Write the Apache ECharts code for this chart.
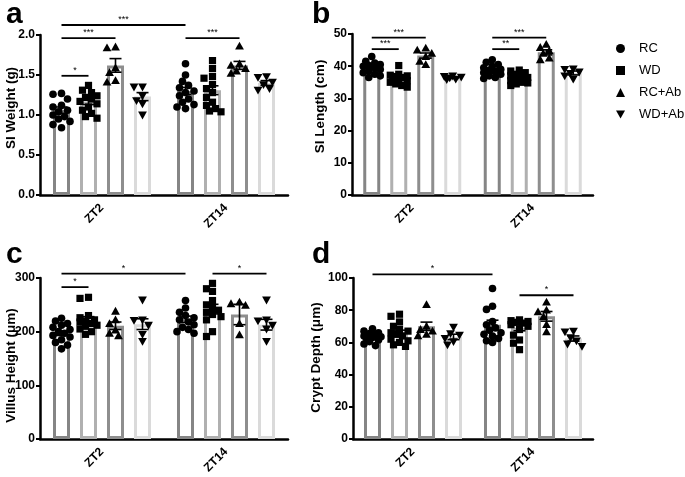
<!DOCTYPE html>
<html><head><meta charset="utf-8">
<script src="https://cdn.jsdelivr.net/npm/echarts@6/dist/echarts.min.js"></script>
<style>html,body{margin:0;padding:0;background:#fff}#c{width:685px;height:477px}</style>
</head><body><div id="c"></div>
<script>
const categories = ['ZT2', 'ZT14'];
const groups = ['RC', 'WD', 'RC+Ab', 'WD+Ab'];

// Panel a: SI Weight (g) — [ZT2 points], [ZT14 points]
const weightRC   = [[1.27,1.26,1.20,1.12,1.10,1.06,1.04,1.00,0.98,0.95,0.92,0.88,0.84],[1.64,1.50,1.42,1.37,1.34,1.30,1.28,1.24,1.20,1.16,1.13,1.10,1.08]];
const weightWD   = [[1.37,1.31,1.28,1.24,1.22,1.20,1.17,1.14,1.10,1.06,1.02,0.98,0.96],[1.68,1.58,1.48,1.46,1.38,1.33,1.28,1.22,1.16,1.12,1.08,1.05,1.04]];
const weightRCAb = [[1.85,1.84,1.59,1.53,1.43,1.41],[1.86,1.64,1.62,1.58,1.55,1.52]];
const weightWDAb = [[1.35,1.35,1.24,1.18,1.14,1.00],[1.48,1.47,1.41,1.38,1.33,1.31]];
const weightMean = [[1.06,1.30],[1.17,1.31],[1.62,1.62],[1.23,1.40]];
const weightSem  = [[0.04,0.045],[0.04,0.055],[0.085,0.05],[0.05,0.03]];
const weightSig  = [[0,0,0,1,1.49,'*'],[0,0,0,2,1.96,'***'],[0,0,1,0,2.125,'***'],[1,0,1,2,1.96,'***']];

// Panel b: SI Length (cm)
const lengthRC   = [[43.0,41.5,41.0,40.5,40.2,40.0,39.5,39.0,38.5,38.0,37.5,37.0,36.5],[42.0,41.2,40.5,40.0,39.5,39.0,38.7,38.3,38.0,37.5,37.0,36.5,36.2]];
const lengthWD   = [[40.2,37.5,37.2,37.0,36.8,36.5,36.2,36.0,35.5,35.0,34.5,34.0,33.5],[38.8,38.5,38.0,37.5,37.0,36.8,36.5,36.0,35.5,35.0,34.8,34.5,34.0]];
const lengthRCAb = [[45.6,45.0,44.0,43.0,41.5,40.5],[46.8,45.8,44.8,44.0,42.5,42.0]];
const lengthWDAb = [[37.0,36.8,36.6,36.4,36.0,35.8],[39.2,39.0,38.2,37.8,37.0,36.0]];
const lengthMean = [[39.4,38.6],[36.1,36.3],[43.3,44.3],[36.4,37.9]];
const lengthSem  = [[0.5,0.5],[0.5,0.4],[0.8,0.8],[0.2,0.6]];
const lengthSig  = [[0,0,0,2,48.9,'***'],[0,0,0,1,45.3,'***'],[1,0,1,2,48.9,'***'],[1,0,1,1,45.3,'**']];

// Panel c: Villus Height (μm)
const villusRC   = [[225,220,215,212,208,204,200,197,193,190,185,180,175,168],[258,244,236,230,226,222,218,213,208,204,200,197]];
const villusWD   = [[264,262,230,226,222,220,218,215,212,210,205,200,195],[290,280,275,258,250,245,240,236,232,228,222,200,191]];
const villusRCAb = [[238,222,215,203,197,192],[255,252,249,215,194]];
const villusWDAb = [[259,222,221,212,195,182],[259,222,220,212,205,182]];
const villusMean = [[197,223],[222,242],[211,232],[214,213]];
const villusSem  = [[4,6],[6,9],[7,19],[10,10]];
const villusSig  = [[0,0,1,0,308,'*'],[0,0,0,1,283,'*'],[1,1,1,3,308,'*']];

// Panel d: Crypt Depth (μm)
const cryptRC   = [[68.5,67,66,65.5,65,64,63.5,63,62.5,61.5,60.5,59,58],[93.5,82.5,80.5,73,71,69,67.5,66,65,64,62.5,61,60]];
const cryptWD   = [[77.5,76.2,72.7,70,68,67,66,65,64,62,61,60,58.5,57.5],[74,73.5,73,72.5,72,71,70,68,64.5,61.5,59.5,55.5]];
const cryptRCAb = [[83.5,70,68,67,65,64],[85,80,79,76,71,66.5]];
const cryptWDAb = [[69.5,65.5,64.5,62.5,60.5,58.5],[67,66.5,63,61,59,57.5]];
const cryptMean = [[63.6,71],[66.1,69],[70,76.2],[63.4,62.4]];
const cryptSem  = [[0.9,2.8],[1.5,1.8],[2.6,3],[1.7,1.6]];
const cryptSig  = [[0,0,1,0,102.3,'*'],[1,1,1,3,89.3,'*']];

const yTitles = ['SI Weight (g)', 'SI Length (cm)', 'Villus Height (\u03bcm)', 'Crypt Depth (\u03bcm)'];
const yMax = [2, 50, 300, 100];
const yStep = [0.5, 10, 100, 20];
const yDecimals = [1, 0, 0, 0];
const letters = ['a', 'b', 'c', 'd'];

// ---------- layout / style ----------
const FONT = "'Liberation Sans', Arial, sans-serif";
const grids = [
  {left: 40, top: 35, width: 248, height: 160},
  {left: 352, top: 34, width: 241, height: 161},
  {left: 40, top: 278, width: 248, height: 161},
  {left: 353, top: 278, width: 240, height: 161}
];
const nameGaps = [22, 25, 22, 30];
const namePads = [[0, 0, 0, 14], [0, 0, 0, 16], [0, 14, 0, 0], [0, 0, 0, 2]];
const letterPos = [[6, 0], [312, 0], [6, 240], [312, 240]];
const barColors = ['#858585', '#b0b0b0', '#8e8e8e', '#dadada'];
const BAR_W = 17, STEP = 27;
const shapes = ['circle', 'square', 'triangle', 'down'];

const panels = [
  {pts: [weightRC, weightWD, weightRCAb, weightWDAb], mean: weightMean, sem: weightSem, sig: weightSig},
  {pts: [lengthRC, lengthWD, lengthRCAb, lengthWDAb], mean: lengthMean, sem: lengthSem, sig: lengthSig},
  {pts: [villusRC, villusWD, villusRCAb, villusWDAb], mean: villusMean, sem: villusSem, sig: villusSig},
  {pts: [cryptRC, cryptWD, cryptRCAb, cryptWDAb], mean: cryptMean, sem: cryptSem, sig: cryptSig}
];

// deterministic column-scatter spreading (pixel offsets)
function swarm(values, pxPerUnit) {
  const order = values.map((v, i) => i).sort((a, b) => values[b] - values[a]);
  const placed = [], off = new Array(values.length).fill(0);
  const cands = [0, -3, 3, -6, 6, -8.5, 8.5];
  order.forEach(i => {
    const y = values[i] * pxPerUnit;
    let best = 0, bestD = -1;
    for (const c of cands) {
      let minD = Infinity;
      for (const p of placed) { const d = Math.hypot(p[0] - c, p[1] - y); if (d < minD) minD = d; }
      if (minD >= 6.5) { best = c; break; }
      if (minD > bestD) { bestD = minD; best = c; }
    }
    placed.push([best, y]); off[i] = best;
  });
  return off;
}

function groupOffset(g) { return (g - 1.5) * STEP; }

function markRenderer(shape, g) {
  return function (params, api) {
    const c = api.coord([api.value(0), api.value(1)]);
    const x = c[0] + groupOffset(g) + api.value(2), y = c[1];
    const st = {fill: '#000'};
    if (shape === 'circle') return {type: 'circle', shape: {cx: x, cy: y, r: 3.8}, style: st};
    if (shape === 'square') return {type: 'rect', shape: {x: x - 3.6, y: y - 3.6, width: 7.2, height: 7.2}, style: st};
    if (shape === 'triangle') return {type: 'polygon', shape: {points: [[x, y - 4.4], [x - 4.4, y + 3.4], [x + 4.4, y + 3.4]]}, style: st};
    return {type: 'polygon', shape: {points: [[x, y + 4.4], [x - 4.4, y - 3.4], [x + 4.4, y - 3.4]]}, style: st};
  };
}

function errRender(params, api) {
  const cat = api.value(0), m = api.value(1), s = api.value(2), g = api.value(3);
  const top = api.coord([cat, m + s]), bot = api.coord([cat, m - s]);
  const x = top[0] + groupOffset(g);
  const ls = {stroke: '#000', lineWidth: 1.6};
  return {type: 'group', children: [
    {type: 'line', shape: {x1: x, y1: top[1], x2: x, y2: bot[1]}, style: ls},
    {type: 'line', shape: {x1: x - 6, y1: top[1], x2: x + 6, y2: top[1]}, style: ls},
    {type: 'line', shape: {x1: x - 6, y1: bot[1], x2: x + 6, y2: bot[1]}, style: ls}
  ]};
}

function sigRenderer(texts) {
  return function (params, api) {
    const p1 = api.coord([api.value(0), api.value(4)]);
    const p2 = api.coord([api.value(2), api.value(4)]);
    const x1 = p1[0] + groupOffset(api.value(1));
    const x2 = p2[0] + groupOffset(api.value(3));
    const y = p1[1];
    return {type: 'group', children: [
      {type: 'line', shape: {x1: x1, y1: y, x2: x2, y2: y}, style: {stroke: '#000', lineWidth: 1.8}},
      {type: 'text', style: {text: texts[params.dataIndex], x: (x1 + x2) / 2, y: y - 1, align: 'center', verticalAlign: 'bottom', font: '9px ' + FONT, fill: '#000'}}
    ]};
  };
}

const xAxes = [], yAxes = [], series = [], graphics = [];
panels.forEach((p, k) => {
  xAxes.push({
    type: 'category', gridIndex: k, data: categories,
    axisLine: {lineStyle: {color: '#000', width: 2.5}},
    axisTick: {alignWithLabel: true, length: 5, lineStyle: {color: '#000', width: 2}},
    axisLabel: {rotate: 45, color: '#000', fontWeight: 'bold', fontSize: 12, fontFamily: FONT, margin: 11}
  });
  yAxes.push({
    type: 'value', gridIndex: k, min: 0, max: yMax[k], interval: yStep[k],
    axisLine: {show: true, lineStyle: {color: '#000', width: 2.5}},
    axisTick: {show: true, length: 4, lineStyle: {color: '#000', width: 2}},
    splitLine: {show: false},
    axisLabel: {color: '#000', fontWeight: 'bold', fontSize: 12, fontFamily: FONT, margin: 5,
      formatter: v => v.toFixed(yDecimals[k])},
    name: yTitles[k], nameLocation: 'middle', nameGap: nameGaps[k], nameMoveOverlap: false,
    nameTextStyle: {color: '#000', fontWeight: 'bold', fontSize: 13.5, fontFamily: FONT, padding: namePads[k]}
  });
  const pxPerUnit = grids[k].height / yMax[k];
  groups.forEach((gname, g) => {
    series.push({
      type: 'bar', name: gname, xAxisIndex: k, yAxisIndex: k,
      barWidth: BAR_W, barGap: ((STEP - BAR_W) / BAR_W * 100) + '%',
      itemStyle: {color: '#fff', borderColor: barColors[g], borderWidth: 3},
      data: p.mean[g], z: 2, silent: true
    });
  });
  groups.forEach((gname, g) => {
    const data = [];
    p.pts[g].forEach((vals, cat) => {
      const off = swarm(vals, pxPerUnit);
      vals.forEach((v, i) => data.push([cat, v, off[i]]));
    });
    series.push({
      type: 'custom', name: gname, xAxisIndex: k, yAxisIndex: k,
      renderItem: markRenderer(shapes[g], g), encode: {x: 0, y: 1},
      data: data, z: 3, silent: true
    });
  });
  const errData = [];
  groups.forEach((gname, g) => categories.forEach((c, cat) => errData.push([cat, p.mean[g][cat], p.sem[g][cat], g])));
  series.push({type: 'custom', xAxisIndex: k, yAxisIndex: k, renderItem: errRender, encode: {x: 0, y: 1}, data: errData, z: 4, silent: true});
  series.push({
    type: 'custom', xAxisIndex: k, yAxisIndex: k, clip: false,
    renderItem: sigRenderer(p.sig.map(s => s[5])), encode: {x: 0, y: 4},
    data: p.sig.map(s => s.slice(0, 5)), z: 5, silent: true
  });
  graphics.push({type: 'text', left: letterPos[k][0], top: letterPos[k][1],
    style: {text: letters[k], font: 'bold 30px ' + FONT, fill: '#000'}});
});

const chart = echarts.init(document.getElementById('c'), null, {renderer: 'canvas'});
chart.setOption({
  animation: false,
  backgroundColor: '#fff',
  grid: grids,
  xAxis: xAxes,
  yAxis: yAxes,
  graphic: graphics,
  legend: {
    orient: 'vertical', left: 611, top: 37, itemWidth: 9, itemHeight: 9, itemGap: 9,
    selectedMode: false,
    textStyle: {color: '#000', fontSize: 13, fontFamily: FONT, padding: [0, 0, 0, 9]},
    data: [
      {name: 'RC', icon: 'circle', itemStyle: {color: '#000', borderWidth: 0}},
      {name: 'WD', icon: 'rect', itemStyle: {color: '#000', borderWidth: 0}},
      {name: 'RC+Ab', icon: 'triangle', itemStyle: {color: '#000', borderWidth: 0}},
      {name: 'WD+Ab', icon: 'path://M0,0L10,0L5,9Z', itemStyle: {color: '#000', borderWidth: 0}}
    ]
  },
  series: series
});
</script>
</body></html>
